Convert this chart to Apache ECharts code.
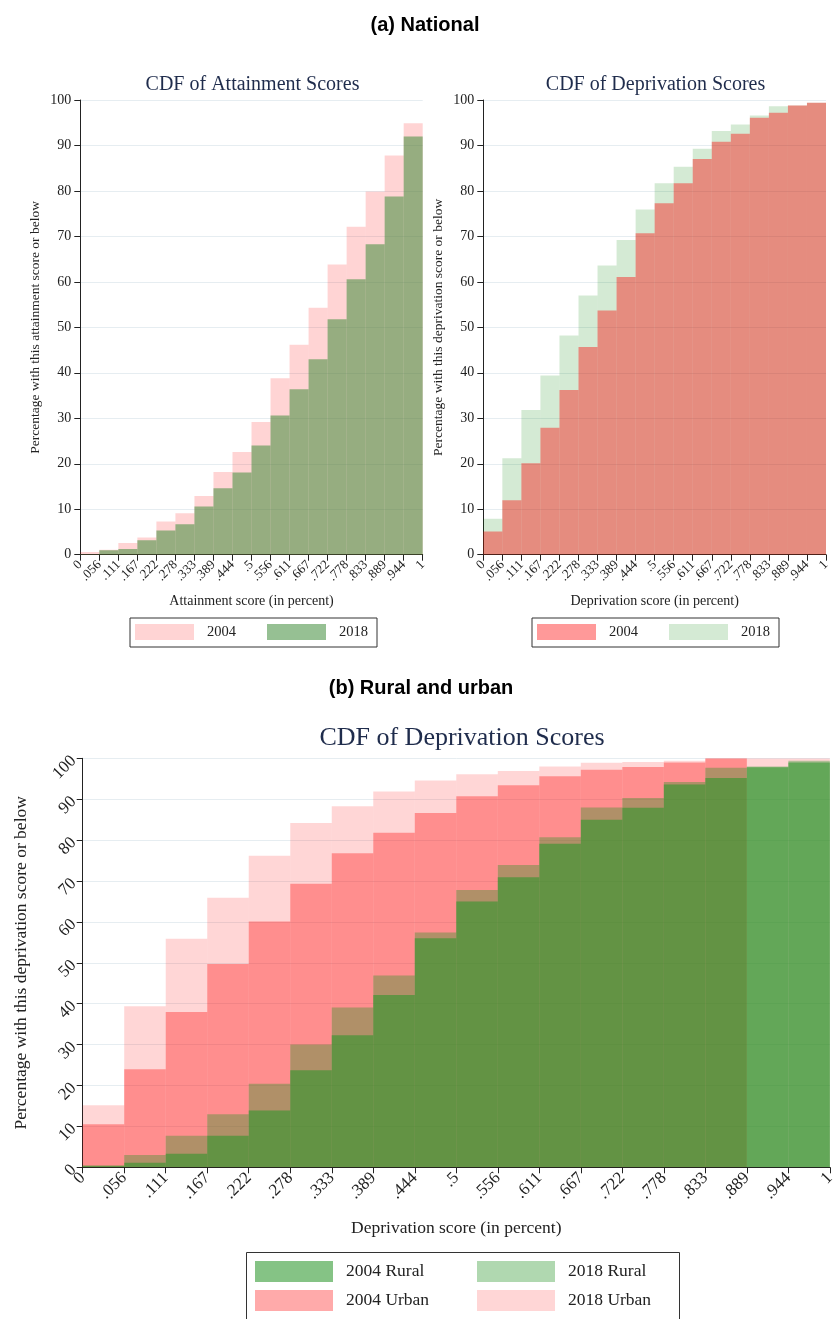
<!DOCTYPE html>
<html>
<head>
<meta charset="utf-8">
<script src="https://cdn.jsdelivr.net/npm/echarts@6/dist/echarts.min.js"></script>
<style>
  html, body { margin: 0; padding: 0; background: #fff; }
  #chart { width: 838px; height: 1319px; }
</style>
</head>
<body>
<div id="chart"></div>
<script>
// Bin edges of the score distribution (18 bins of width 1/18)
const binEdgeLabels = ['0', '.056', '.111', '.167', '.222', '.278', '.333', '.389', '.444', '.5',
  '.556', '.611', '.667', '.722', '.778', '.833', '.889', '.944', '1'];

// (a) National: cumulative share (%) at or below each bin
const attainment2004 = [0.6, 1.1, 2.6, 3.8, 7.3, 9.1, 12.9, 18.2, 22.6, 29.2, 38.8, 46.2, 54.3, 63.8, 72.1, 79.9, 87.8, 94.9];
const attainment2018 = [0.1, 1.0, 1.25, 3.2, 5.3, 6.7, 10.6, 14.6, 18.1, 24.0, 30.6, 36.4, 43.0, 51.8, 60.6, 68.3, 78.8, 92.0];
const deprivation2004 = [5.1, 12.0, 20.1, 27.9, 36.2, 45.7, 53.7, 61.1, 70.7, 77.3, 81.7, 87.0, 90.8, 92.6, 96.1, 97.2, 98.8, 99.4];
const deprivation2018 = [7.9, 21.2, 31.8, 39.4, 48.2, 57.0, 63.6, 69.2, 75.9, 81.7, 85.3, 89.3, 93.2, 94.6, 96.6, 98.6, 98.8, 99.4];

// (b) Rural and urban deprivation CDFs
const urban2018 = [15.2, 39.4, 55.9, 65.9, 76.2, 84.2, 88.3, 91.9, 94.6, 96.1, 96.9, 98.0, 98.9, 99.1, 99.4, 100, 100, 100];
const urban2004 = [10.5, 24.0, 38.0, 49.7, 60.1, 69.3, 76.8, 81.8, 86.6, 90.7, 93.4, 95.6, 97.2, 97.9, 99.0, 100, null, null];
const rural2018 = [0.5, 3.0, 7.7, 13.0, 20.4, 30.0, 39.1, 46.9, 57.4, 67.8, 73.9, 80.7, 88.0, 90.3, 94.2, 97.7, 98.0, 99.4];
const rural2004 = [0.3, 1.1, 3.3, 7.7, 13.9, 23.7, 32.3, 42.1, 56.0, 65.0, 70.9, 79.1, 85.0, 87.9, 93.6, 95.2, 97.8, 99.0];

const SERIF = '"Liberation Serif", "DejaVu Serif", serif';
const SANS = '"Liberation Sans", Arial, sans-serif';
const INK = '#222';
const TITLE_INK = '#1f2c4c';

// each bin becomes a rectangle spanning [i, i+1] on the index axis
function toBins(values) {
  return values.map((v, i) => (v == null ? null : [i, v])).filter(Boolean);
}

function binRender(params, api) {
  const i = api.value(0);
  const v = api.value(1);
  const top = api.coord([i, v]);
  const base = api.coord([i + 1, 0]);
  return {
    type: 'rect',
    shape: { x: top[0], y: top[1], width: base[0] - top[0], height: base[1] - top[1] },
    style: { fill: api.visual('color') }
  };
}

function binSeries(name, values, color, axisIndex) {
  return {
    type: 'custom',
    name: name,
    xAxisIndex: axisIndex,
    yAxisIndex: axisIndex,
    renderItem: binRender,
    itemStyle: { color: color },
    encode: { x: 0, y: 1 },
    data: toBins(values),
    clip: true,
    silent: true
  };
}

function xAxisFor(gridIndex, title, fontSize, labelSize, nameGap) {
  return {
    type: 'value', gridIndex: gridIndex, min: 0, max: 18, interval: 1,
    name: title, nameLocation: 'middle', nameGap: nameGap,
    nameTextStyle: { fontFamily: SERIF, fontSize: fontSize, color: INK },
    axisLine: { show: true, lineStyle: { color: INK, width: 1 } },
    axisTick: { show: true, length: 6, lineStyle: { color: INK } },
    splitLine: { show: false },
    axisLabel: {
      rotate: 45, margin: 8, fontFamily: SERIF, fontSize: labelSize, color: INK,
      formatter: v => binEdgeLabels[Math.round(v)]
    }
  };
}

function yAxisFor(gridIndex, title, fontSize, labelSize, nameGap, labelRotate) {
  return {
    type: 'value', gridIndex: gridIndex, min: 0, max: 100, interval: 10,
    name: title, nameLocation: 'middle', nameGap: nameGap, nameRotate: 90,
    nameTextStyle: { fontFamily: SERIF, fontSize: fontSize, color: INK },
    axisLine: { show: true, lineStyle: { color: INK, width: 1 } },
    axisTick: { show: true, length: 6, lineStyle: { color: INK } },
    splitLine: { show: true, lineStyle: { color: '#e6edf1', width: 1 } },
    axisLabel: { rotate: labelRotate, margin: 9, fontFamily: SERIF, fontSize: labelSize, color: INK }
  };
}

const legendText = { fontFamily: SERIF, fontSize: 14.5, color: INK, padding: [0, 0, 0, 8] };
const yearOnly = name => name.split(' ').pop();

const option = {
  backgroundColor: '#fff',
  animation: false,
  grid: [
    { left: 80.3, top: 100, width: 342.4, height: 454.7 },
    { left: 483.3, top: 100, width: 342.7, height: 454.7 },
    { left: 82.7, top: 758.3, width: 752.3, height: 409 }
  ],
  xAxis: [
    xAxisFor(0, 'Attainment score (in percent)', 14, 13, 40),
    xAxisFor(1, 'Deprivation score (in percent)', 14, 13, 40),
    xAxisFor(2, 'Deprivation score (in percent)', 17.5, 17, 52)
  ],
  yAxis: [
    yAxisFor(0, 'Percentage with this attainment score or below', 13.5, 14, 38, 0),
    yAxisFor(1, 'Percentage with this deprivation score or below', 13.5, 14, 38, 0),
    yAxisFor(2, 'Percentage with this deprivation score or below', 17.5, 17, 52, 45)
  ],
  legend: [
    {
      left: 130, top: 618, orient: 'horizontal', selectedMode: false,
      data: ['Attainment 2004', 'Attainment 2018'], formatter: yearOnly,
      icon: 'rect', itemWidth: 59, itemHeight: 16, itemGap: 31,
      padding: [6, 9, 7, 5], borderColor: '#333', borderWidth: 1,
      textStyle: legendText
    },
    {
      left: 532, top: 618, orient: 'horizontal', selectedMode: false,
      data: ['Deprivation 2004', 'Deprivation 2018'], formatter: yearOnly,
      icon: 'rect', itemWidth: 59, itemHeight: 16, itemGap: 31,
      padding: [6, 9, 7, 5], borderColor: '#333', borderWidth: 1,
      textStyle: legendText
    },
    {
      left: 255, top: 1261, orient: 'vertical', selectedMode: false,
      data: ['2004 Rural', '2004 Urban'],
      icon: 'rect', itemWidth: 78, itemHeight: 21, itemGap: 8, padding: 0,
      textStyle: { fontFamily: SERIF, fontSize: 17.5, color: INK, padding: [0, 0, 0, 8] }
    },
    {
      left: 477, top: 1261, orient: 'vertical', selectedMode: false,
      data: ['2018 Rural', '2018 Urban'],
      icon: 'rect', itemWidth: 78, itemHeight: 21, itemGap: 8, padding: 0,
      textStyle: { fontFamily: SERIF, fontSize: 17.5, color: INK, padding: [0, 0, 0, 8] }
    }
  ],
  graphic: [
    { type: 'text', style: { text: '(a) National', x: 425, y: 25, textAlign: 'center', textVerticalAlign: 'middle',
        font: 'bold 20px ' + SANS, fill: '#000' } },
    { type: 'text', style: { text: '(b) Rural and urban', x: 421, y: 688, textAlign: 'center', textVerticalAlign: 'middle',
        font: 'bold 20px ' + SANS, fill: '#000' } },
    { type: 'text', style: { text: 'CDF of Attainment Scores', x: 252.5, y: 85, textAlign: 'center', textVerticalAlign: 'middle',
        font: '20px ' + SERIF, fill: TITLE_INK } },
    { type: 'text', style: { text: 'CDF of Deprivation Scores', x: 655.5, y: 85, textAlign: 'center', textVerticalAlign: 'middle',
        font: '20px ' + SERIF, fill: TITLE_INK } },
    { type: 'text', style: { text: 'CDF of Deprivation Scores', x: 462, y: 738, textAlign: 'center', textVerticalAlign: 'middle',
        font: '26px ' + SERIF, fill: TITLE_INK } },
    { type: 'rect', shape: { x: 246.5, y: 1252.5, width: 433, height: 80 },
      style: { fill: 'none', stroke: '#333', lineWidth: 1 }, z: 10 }
  ],
  series: [
    // national attainment: 2004 underneath, 2018 on top
    binSeries('Attainment 2004', attainment2004, 'rgba(255,0,0,0.17)', 0),
    binSeries('Attainment 2018', attainment2018, 'rgba(68,142,62,0.56)', 0),
    // national deprivation: 2018 underneath, 2004 on top
    binSeries('Deprivation 2018', deprivation2018, 'rgba(0,128,0,0.17)', 1),
    binSeries('Deprivation 2004', deprivation2004, 'rgba(255,0,0,0.40)', 1),
    // rural and urban deprivation: urban first, rural layered over it
    binSeries('2018 Urban', urban2018, 'rgba(255,0,0,0.16)', 2),
    binSeries('2004 Urban', urban2004, 'rgba(255,0,0,0.333)', 2),
    binSeries('2018 Rural', rural2018, 'rgba(40,150,40,0.367)', 2),
    binSeries('2004 Rural', rural2004, 'rgba(40,150,40,0.567)', 2)
  ]
};

const chart = echarts.init(document.getElementById('chart'), null, { renderer: 'canvas' });
chart.setOption(option);
</script>
</body>
</html>
